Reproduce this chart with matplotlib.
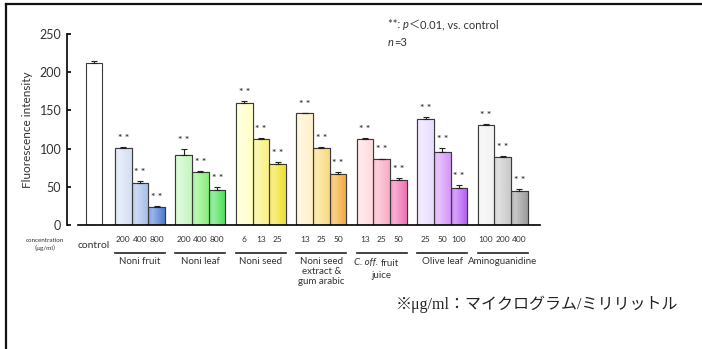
import numpy as np
import matplotlib
matplotlib.use("Agg")
import matplotlib.pyplot as plt
from matplotlib.transforms import blended_transform_factory
from matplotlib.colors import to_rgb

plt.rcParams['font.family'] = ['Lato', 'DejaVu Sans']

# data
groups = ['Noni fruit', 'Noni leaf', 'Noni seed', 'Noni seed\nextract &\ngum arabic',
          'C. off. fruit\njuice', 'Olive leaf', 'Aminoguanidine']
concs = [['200', '400', '800'], ['200', '400', '800'], ['6', '13', '25'], ['13', '25', '50'],
         ['13', '25', '50'], ['25', '50', '100'], ['100', '200', '400']]
values = [[101, 55, 23], [92, 69, 46], [160, 113, 80], [146, 101, 67],
          [112, 86, 59], [139, 96, 48], [131, 89, 44]]
errors = [[1, 2, 1.5], [7, 1.5, 4], [2, 1, 2], [1, 1, 2],
          [2, 1, 2], [2, 5, 4], [1.5, 1, 3]]
control_value = 212
control_error = 3
colors = [['#d4def4', '#a4bbe8', '#4d79d2'],
          ['#c4f5bc', '#86ee78', '#45e052'],
          ['#ffffc4', '#f8f078', '#f0e028'],
          ['#fff0c8', '#f9d978', '#f2a830'],
          ['#ffd8da', '#f8aac2', '#f070b2'],
          ['#e8dcff', '#d494f8', '#b458f2'],
          ['#f2f2f2', '#c8c8c8', '#9a9a9a']]

fig = plt.figure(figsize=(7.02, 3.49), dpi=100)
ax = fig.add_axes([78 / 702, 1 - 225 / 349, 462 / 702, 191 / 349])

GROUP_START = 2.75
GROUP_STEP = 3.62
txt_col = '#333333'


def grad_bar(x, h, col, err):
    bar = ax.bar(x, h, width=1.0, color=col, edgecolor='#3a3a3a', linewidth=0.8, zorder=2)[0]
    base = np.array(to_rgb(col))
    t = np.linspace(0, 1, 64)
    mix = np.interp(t, [0, 0.25, 1], [0.25, 0.45, 0.0])
    img = base[None, :] * (1 - mix[:, None]) + mix[:, None]
    img = img[None, :, :]
    im = ax.imshow(img, extent=[x - 0.5, x + 0.5, 0, h], aspect='auto', zorder=2.1)
    im.set_clip_path(bar)
    ax.bar(x, h, width=1.0, fill=False, edgecolor='#3a3a3a', linewidth=0.8, zorder=2.2)
    ax.errorbar(x, h, yerr=[[0], [err]], fmt='none', ecolor='#222222', elinewidth=0.8,
                capsize=2, capthick=0.8, zorder=3)


# control bar (plain white)
ax.bar(0, control_value, width=1.0, color='white', edgecolor='#3a3a3a', linewidth=0.8, zorder=2)
ax.errorbar(0, control_value, yerr=[[0], [control_error]], fmt='none', ecolor='#222222',
            elinewidth=0.8, capsize=2, capthick=0.8, zorder=3)

for g in range(len(groups)):
    c = GROUP_START + GROUP_STEP * g
    for i in range(3):
        x = c + (i - 1)
        grad_bar(x, values[g][i], colors[g][i], errors[g][i])
        ax.annotate('* *', (x, values[g][i] + errors[g][i]), xytext=(0, 3),
                    textcoords='offset points', ha='center', va='bottom',
                    fontsize=7.5, color='#3a3a3a', fontweight='bold')

ax.set_xlim(-0.96, 26.7)
ax.set_ylim(0, 250)
ax.set_yticks([0, 50, 100, 150, 200, 250])
ax.set_xticks([])
for s in ['top', 'right']:
    ax.spines[s].set_visible(False)
ax.spines['left'].set_position(('outward', 8))
ax.spines['left'].set_linewidth(1.2)
ax.spines['bottom'].set_linewidth(1.2)
ax.tick_params(axis='y', direction='in', length=3, width=1.2, labelsize=9,
               labelcolor=txt_col, pad=4)
ax.set_ylabel('Fluorescence intensity', fontsize=8.5, color=txt_col, labelpad=5)

# labels below the axis
tr = blended_transform_factory(ax.transData, fig.transFigure)
ax.text(0, 1 - 245 / 349, 'control', transform=tr, ha='center', va='center',
        fontsize=7.5, color=txt_col)
for g in range(len(groups)):
    c = GROUP_START + GROUP_STEP * g
    for i in range(3):
        ax.text(c + i - 1, 1 - 240 / 349, concs[g][i], transform=tr, ha='center',
                va='center', fontsize=6, color=txt_col)
    ax.plot([c - 1.5, c + 1.5], [1 - 253 / 349] * 2, transform=tr, color='#222222',
            lw=1.2, clip_on=False)
    if groups[g].startswith('C. off.'):
        ax.text(c - 0.2, 1 - 263 / 349, 'C. off.', transform=tr, ha='right',
                va='center', fontsize=7, color=txt_col, style='italic')
        ax.text(c - 0.05, 1 - 263 / 349, 'fruit', transform=tr, ha='left',
                va='center', fontsize=7, color=txt_col)
        ax.text(c, 1 - 275 / 349, 'juice', transform=tr, ha='center',
                va='center', fontsize=7, color=txt_col)
    else:
        ax.text(c, 1 - 257 / 349, groups[g], transform=tr, ha='center', va='top',
                fontsize=7, color=txt_col, linespacing=1.15)

fig.text(45 / 702, 1 - 241 / 349, 'concentration', ha='center', va='center',
         fontsize=4.5, color=txt_col)
fig.text(45 / 702, 1 - 248 / 349, '（μg/ml）', ha='center', va='center', fontsize=4.5,
         color=txt_col, family=['Lato', 'Noto Sans CJK JP', 'DejaVu Sans'])

# significance note
fig.canvas.draw()
rend = fig.canvas.get_renderer()


def run_text(x, y, parts, size):
    for s, kw in parts:
        t = fig.text(x, y, s, ha='left', va='center', fontsize=size, color=txt_col, **kw)
        bb = t.get_window_extent(rend)
        x = bb.x1 / fig.bbox.width


run_text(388 / 702, 1 - 25 / 349,
         [('**: ', {}), ('p', {'style': 'italic'}),
          ('＜', {'family': ['Noto Sans CJK JP']}), ('0.01, vs. control', {})], 8)
run_text(388 / 702, 1 - 42 / 349, [('n', {'style': 'italic'}), ('=3', {})], 8)

fig.text(396 / 702, 1 - 304 / 349, '※μg/ml：マイクログラム/ミリリットル', ha='left',
         va='center', fontsize=11.5, color='#222222',
         family=['Liberation Serif', 'Noto Sans CJK JP'])

# frame on the left and top
fig.add_artist(plt.Line2D([6 / 702, 6 / 702], [0, 1 - 4 / 349], color='#111111', lw=1.6))
fig.add_artist(plt.Line2D([6 / 702, 1], [1 - 4 / 349, 1 - 4 / 349], color='#111111', lw=1.6))

fig.savefig('out.png', dpi=100)
